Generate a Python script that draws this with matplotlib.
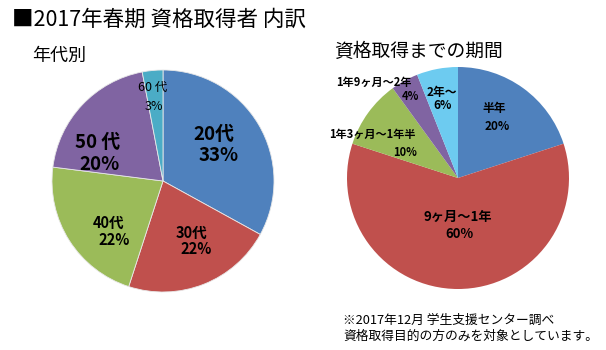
import matplotlib
matplotlib.use('Agg')
import matplotlib.pyplot as plt

plt.rcParams['font.family'] = ['Noto Sans CJK JP', 'DejaVu Sans']

W, H = 606, 350

# --- data ---
age_labels = ['20代', '30代', '40代', '50 代', '60 代']
age_values = [33, 22, 22, 20, 3]
age_colors = ['#4F81BD', '#C0504D', '#9BBB59', '#8064A2', '#4BACC6']

period_labels = ['半年', '9ヶ月～1年', '1年3ヶ月～1年半', '1年9ヶ月～2年', '2年～']
period_values = [20, 60, 10, 4, 6]
period_colors = ['#4F81BD', '#C0504D', '#9BBB59', '#8064A2', '#6DCBF0']

# label placement (pie radius units): name line, percent line
age_name_pos = [(0.46, 0.42), (0.26, -0.47), (-0.49, -0.38), (-0.59, 0.35), (-0.09, 0.84)]
age_pct_pos = [(0.50, 0.23), (0.30, -0.61), (-0.44, -0.53), (-0.57, 0.15), (-0.08, 0.67)]
age_size = [13.5, 10.5, 10.5, 13.5, 9]
age_weight = ['bold', 'bold', 'bold', 'bold', 'normal']

per_name_pos = [(0.33, 0.63), (0.0, -0.35), (-0.77, 0.39), (-0.76, 0.86), (-0.15, 0.77)]
per_pct_pos = [(0.35, 0.46), (0.01, -0.50), (-0.48, 0.23), (-0.43, 0.73), (-0.14, 0.65)]
per_size = [8.5, 9.5, 8, 8, 8.5]


def pie_axes(fig, cx, cy, r):
    # cx, cy, r in pixels (y from top)
    return fig.add_axes([(cx - r) / W, (H - cy - r) / H, 2 * r / W, 2 * r / H])


def draw_pie(ax, values, colors, edge):
    ax.pie(values, colors=colors, startangle=90, counterclock=False,
           wedgeprops=dict(edgecolor=edge, linewidth=0.6 if edge else 0))
    ax.set_xlim(-1, 1)
    ax.set_ylim(-1, 1)
    ax.set_aspect('equal')
    ax.axis('off')


fig = plt.figure(figsize=(W / 100, H / 100), dpi=100)

ax1 = pie_axes(fig, 163, 181, 111)
draw_pie(ax1, age_values, age_colors, '#E8E8E8')
for lab, v, npos, ppos, fs, fw in zip(age_labels, age_values, age_name_pos,
                                       age_pct_pos, age_size, age_weight):
    ax1.text(*npos, lab, ha='center', va='center', fontsize=fs, fontweight=fw)
    ax1.text(*ppos, f'{v}%', ha='center', va='center', fontsize=fs, fontweight=fw)

ax2 = pie_axes(fig, 458, 178, 111)
draw_pie(ax2, period_values, period_colors, None)
for lab, v, npos, ppos, fs in zip(period_labels, period_values, per_name_pos,
                                  per_pct_pos, per_size):
    ax2.text(*npos, lab, ha='center', va='center', fontsize=fs, fontweight='bold')
    ax2.text(*ppos, f'{v}%', ha='center', va='center', fontsize=fs, fontweight='bold')

fig.text(12 / W, 1 - 20 / H, '■2017年春期 資格取得者 内訳', fontsize=15.5,
         ha='left', va='center')
fig.text(32 / W, 1 - 56 / H, '年代別', fontsize=13, ha='left', va='center')
fig.text(334 / W, 1 - 51 / H, '資格取得までの期間', fontsize=13.5, ha='left', va='center')
fig.text(343 / W, 1 - 320 / H, '※2017年12月 学生支援センター調べ', fontsize=9.2,
         ha='left', va='center')
fig.text(343 / W, 1 - 336 / H, '資格取得目的の方のみを対象としています。', fontsize=9.2,
         ha='left', va='center')

fig.savefig('out.png', dpi=100)
